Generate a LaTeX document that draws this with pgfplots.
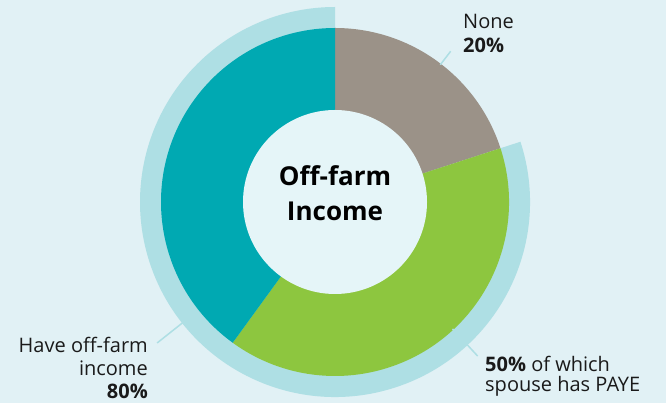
\documentclass[border=0pt]{standalone}
\usepackage{fontspec}
\setmainfont{Open Sans}
\usepackage{pgfplots}
\usepackage{pgfplotstable}
\pgfplotsset{compat=1.18}
\definecolor{bg}{HTML}{E1F1F5}
\definecolor{band}{HTML}{AEDFE4}
\definecolor{teal}{HTML}{00A9B2}
\definecolor{pgray}{HTML}{9B9288}
\definecolor{pgreen}{HTML}{8DC63F}
\definecolor{inner}{HTML}{E5F5F8}
\definecolor{txt}{HTML}{1A1A1A}
\pgfplotstableread{
label value
None 20
PAYE 40
Other 40
}\piedata
\begin{document}
\begin{tikzpicture}
\fill[bg, use as bounding box] (0,0) rectangle (666pt,403pt);
\pgfplotstablegetelem{0}{value}\of\piedata \pgfmathsetmacro\vA{\pgfplotsretval}
\pgfplotstablegetelem{1}{value}\of\piedata \pgfmathsetmacro\vB{\pgfplotsretval}
\pgfplotstablegetelem{2}{value}\of\piedata \pgfmathsetmacro\vC{\pgfplotsretval}
\pgfmathsetmacro\aA{90-3.6*\vA}
\pgfmathsetmacro\aB{\aA-3.6*\vB}
\pgfmathsetmacro\aC{\aB-3.6*\vC}
\begin{axis}[
  at={(0,0)}, anchor=south west,
  scale only axis, width=666pt, height=403pt,
  xmin=0, xmax=666, ymin=0, ymax=403,
  hide axis, clip=false,
]
% outer band (off-farm income share)
\fill[band] (335,201) -- ++(\aA:195pt) arc[start angle=\aA, end angle=\aC, radius=195pt] -- cycle;
% wedges
\fill[pgray] (335,201) -- ++(90:174pt) arc[start angle=90, end angle=\aA, radius=174pt] -- cycle;
\fill[pgreen] (335,201) -- ++(\aA:174pt) arc[start angle=\aA, end angle=\aB, radius=174pt] -- cycle;
\fill[teal] (335,201) -- ++(\aB:174pt) arc[start angle=\aB, end angle=\aC, radius=174pt] -- cycle;
\fill[inner] (335,201) circle[radius=92pt];
% leader lines
\draw[band, line width=1.5pt] (335,201) ++(52.5:173pt) -- ++(52.5:17pt);
\draw[band, line width=1.5pt] (335,201) ++(218.4:194pt) -- ++(218.4:33pt);
\draw[band, line width=1.5pt] (335,201) ++(-47.2:173pt) -- ++(-47.2:37pt);
% labels
\node[anchor=base, inner sep=0, font=\bfseries\fontsize{26}{30}\selectfont, text=black] at (335,217) {Off-farm};
\node[anchor=base, inner sep=0, font=\bfseries\fontsize{26}{30}\selectfont, text=black] at (335,182) {Income};
\node[anchor=base west, inner sep=0, font=\fontsize{20}{24}\selectfont, text=txt] at (463,374) {None};
\node[anchor=base west, inner sep=0, font=\bfseries\fontsize{20}{24}\selectfont, text=txt] at (463,350) {20\%};
\node[anchor=base east, inner sep=0, font=\fontsize{20}{24}\selectfont, text=txt] at (148,50) {Have off-farm};
\node[anchor=base east, inner sep=0, font=\fontsize{20}{24}\selectfont, text=txt] at (148,27) {income};
\node[anchor=base east, inner sep=0, font=\bfseries\fontsize{20}{24}\selectfont, text=txt] at (148,4) {80\%};
\node[anchor=base west, inner sep=0, font=\fontsize{20}{24}\selectfont, text=txt] at (485,31) {\textbf{50\%} of which};
\node[anchor=base west, inner sep=0, font=\fontsize{20}{24}\selectfont, text=txt] at (485,11) {spouse has PAYE};
\end{axis}
\end{tikzpicture}
\end{document}
